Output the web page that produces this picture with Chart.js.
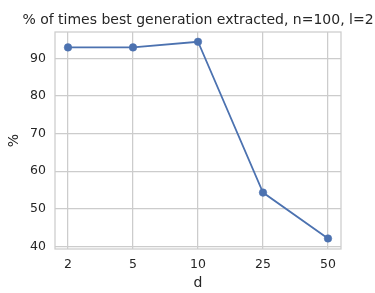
<!DOCTYPE html>
<html>
<head>
<meta charset="utf-8">
<script src="https://cdn.jsdelivr.net/npm/chart.js@4/dist/chart.umd.min.js"></script>
<style>
  html, body { margin: 0; padding: 0; background: #fff; }
  #wrap { width: 375px; height: 293px; }
</style>
</head>
<body>
<div id="wrap"><canvas id="chart" width="375" height="293"></canvas></div>
<script>
// Values
const titleText = '% of times best generation extracted, n=100, l=2';
const dLabels = ['2', '5', '10', '25', '50'];
const percentValues = [92.9, 92.9, 94.4, 54.3, 42.1];
const yTicks = [40, 50, 60, 70, 80, 90];

const textColor = '#262626';
const gridColor = '#cccccc';
const family = "'DejaVu Sans', sans-serif";

// seaborn-like frame round the plot area, plus the title centred over it
const frame = {
  id: 'frame',
  afterDatasetsDraw(chart) {
    const a = chart.chartArea;
    const ctx = chart.ctx;
    ctx.save();
    ctx.strokeStyle = gridColor;
    ctx.lineWidth = 1.25;
    ctx.strokeRect(a.left, a.top, a.right - a.left, a.bottom - a.top);
    ctx.fillStyle = textColor;
    ctx.font = '14px ' + family;
    ctx.textAlign = 'center';
    ctx.textBaseline = 'middle';
    ctx.fillText(titleText, (a.left + a.right) / 2, 20);
    ctx.restore();
  }
};

new Chart(document.getElementById('chart'), {
  type: 'line',
  data: {
    datasets: [{
      data: percentValues.map((v, i) => ({ x: i, y: v })),
      borderColor: '#4c72b0',
      backgroundColor: '#4c72b0',
      borderWidth: 1.75,
      pointRadius: 3.8,
      pointBorderWidth: 0.5,
      pointHoverRadius: 3.8,
      tension: 0
    }]
  },
  options: {
    responsive: false,
    animation: false,
    layout: { padding: { top: 32, right: 34 } },
    plugins: {
      legend: { display: false },
      tooltip: { enabled: false },
      title: { display: false }
    },
    scales: {
      x: {
        type: 'linear',
        min: -0.2,
        max: 4.2,
        afterFit(s) { s.height = 44; },
        afterBuildTicks(s) { s.ticks = dLabels.map((_, i) => ({ value: i })); },
        ticks: {
          color: textColor,
          font: { family, size: 12.5 },
          padding: 8,
          callback: (v) => dLabels[v]
        },
        grid: { color: gridColor, lineWidth: 1.25, drawTicks: false },
        border: { display: false },
        title: {
          display: true,
          text: 'd',
          color: textColor,
          font: { family, size: 14 },
          padding: { top: 0, bottom: 1.6 }
        }
      },
      y: {
        min: 39.3,
        max: 97,
        afterFit(s) { s.width = 55; },
        afterBuildTicks(s) { s.ticks = yTicks.map(v => ({ value: v })); },
        ticks: {
          color: textColor,
          font: { family, size: 12.5 },
          padding: 9
        },
        grid: { color: gridColor, lineWidth: 1.25, drawTicks: false },
        border: { display: false },
        title: {
          display: true,
          text: '%',
          color: textColor,
          font: { family, size: 14 },
          padding: { top: 6, bottom: 0 }
        }
      }
    }
  },
  plugins: [frame]
});
</script>
</body>
</html>
